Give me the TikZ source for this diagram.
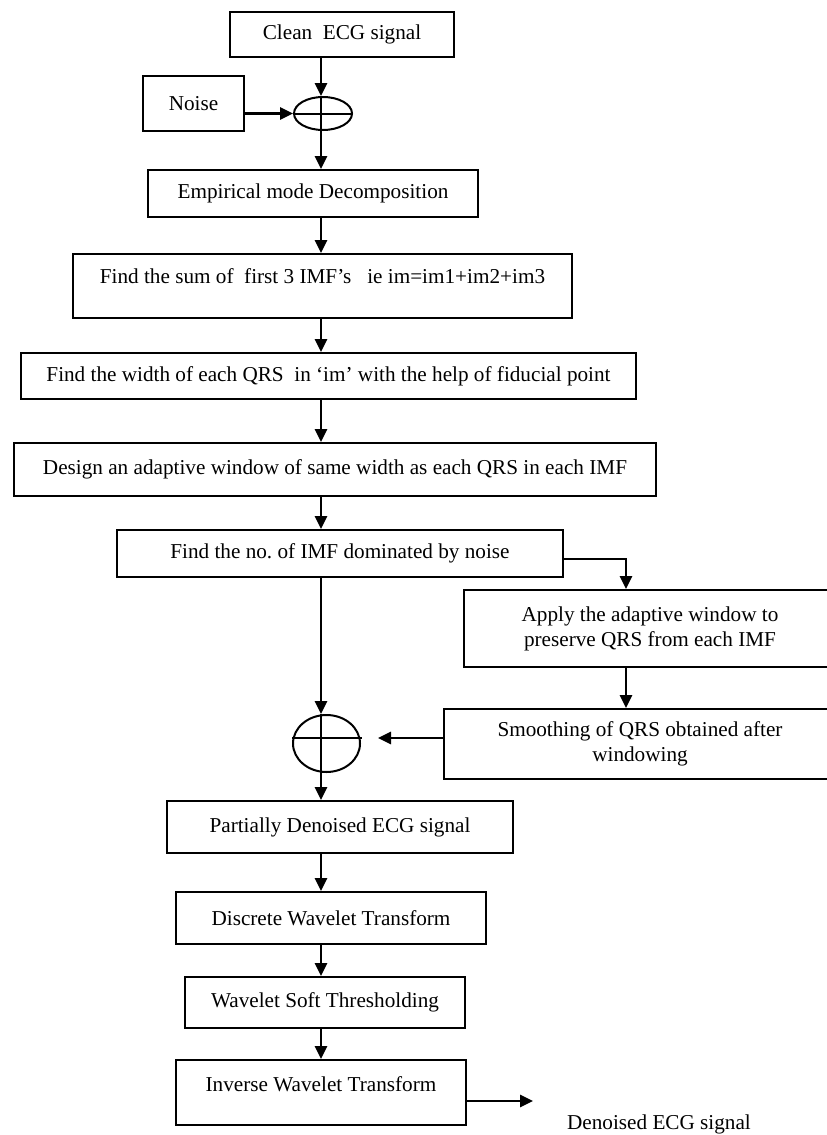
\documentclass[tikz,border=0pt]{standalone}
\usepackage{fontspec}
\setmainfont{Liberation Serif}
\usetikzlibrary{arrows.meta,calc,shapes.geometric}
\frenchspacing

\begin{document}
\begin{tikzpicture}[x=1pt,y=-1pt,>={Triangle[length=13pt,width=12pt]},
  font=\fontsize{21.2}{25}\selectfont,
  box/.style={draw,line width=2pt,inner sep=0pt,align=center},
  adder/.style={draw,ellipse,line width=2pt,inner sep=0pt},
  flow/.style={->,line width=2.6pt}]
  \useasboundingbox (0,0) rectangle (827,1135);
  \coordinate (col) at (321,0);
  \coordinate (turn) at (626,559);
  \coordinate (mixin) at (378,738);
  \coordinate (out) at (533,1101);

  \node[box,minimum width=224pt,minimum height=45pt] (clean) at (342,34.5) {Clean\ \ ECG signal};
  \node[box,minimum width=101pt,minimum height=55pt] (noise) at (193.5,103.5) {Noise};
  \node[adder,minimum width=58pt,minimum height=33pt] (sum1) at (323,113.5) {};
  \node[box,minimum width=330pt,minimum height=47pt] (emd) at (313,193.5) {Empirical mode Decomposition};
  \node[box,minimum width=499pt,minimum height=64pt,text depth=20.5pt] (imfsum) at (322.5,286)
    {Find the sum of\ \ first 3 IMF’s\ \ \ ie im=im1+im2+im3};
  \node[box,minimum width=615pt,minimum height=46pt] (qrswidth) at (328.5,376)
    {Find the width of each QRS\ \ in ‘im’ with the help of fiducial point};
  \node[box,minimum width=642pt,minimum height=53pt] (window) at (335,469.5)
    {Design an adaptive window of same width as each QRS in each IMF};
  \node[box,minimum width=446pt,minimum height=47pt] (noisyimf) at (340,553.5)
    {Find the no. of IMF dominated by noise};
  \node[box,minimum width=372pt,minimum height=77pt] (apply) at (650,628.5)
    {Apply the adaptive window to\\preserve QRS from each IMF};
  \node[box,minimum width=392pt,minimum height=70pt] (smooth) at (640,744)
    {Smoothing of QRS obtained after\\windowing};
  \node[adder,minimum width=67pt,minimum height=57pt] (sum2) at (326.5,743.5) {};
  \node[box,minimum width=346pt,minimum height=52pt] (partial) at (340,827) {Partially Denoised ECG signal};
  \node[box,minimum width=310pt,minimum height=52pt] (dwt) at (331,918) {Discrete Wavelet Transform};
  \node[box,minimum width=280pt,minimum height=51pt] (wst) at (325,1002.5) {Wavelet Soft Thresholding};
  \node[box,minimum width=290pt,minimum height=65pt,text depth=17.5pt] (idwt) at (321,1092.5)
    {Inverse Wavelet Transform};
  \node (result) at (659,1124) {Denoised ECG signal};

  \draw[line width=2pt] (sum1.west) -- (sum1.east);
  \draw[line width=2pt] (sum2.west |- mixin) -- ++(70,0);
  \draw[flow] (clean.south -| col) -- (col |- sum1.north);
  \draw[flow] (col |- sum1.north) -- (col |- emd.north);
  \draw[flow] (noise.east |- sum1.west) -- (sum1.west);
  \draw[flow] (emd.south -| col) -- (col |- imfsum.north);
  \draw[flow] (imfsum.south -| col) -- (col |- qrswidth.north);
  \draw[flow] (qrswidth.south -| col) -- (col |- window.north);
  \draw[flow] (window.south -| col) -- (col |- noisyimf.north);
  \draw[flow] (noisyimf.east |- turn) -- (turn) -- (apply.north -| turn);
  \draw[flow] (apply.south -| turn) -- (smooth.north -| turn);
  \draw[flow] (smooth.west |- mixin) -- (mixin);
  \draw[flow] (noisyimf.south -| col) -- (col |- sum2.north);
  \draw[flow] (col |- sum2.north) -- (col |- partial.north);
  \draw[flow] (partial.south -| col) -- (col |- dwt.north);
  \draw[flow] (dwt.south -| col) -- (col |- wst.north);
  \draw[flow] (wst.south -| col) -- (col |- idwt.north);
  \draw[flow] (idwt.east |- out) -- (out);
\end{tikzpicture}
\end{document}
